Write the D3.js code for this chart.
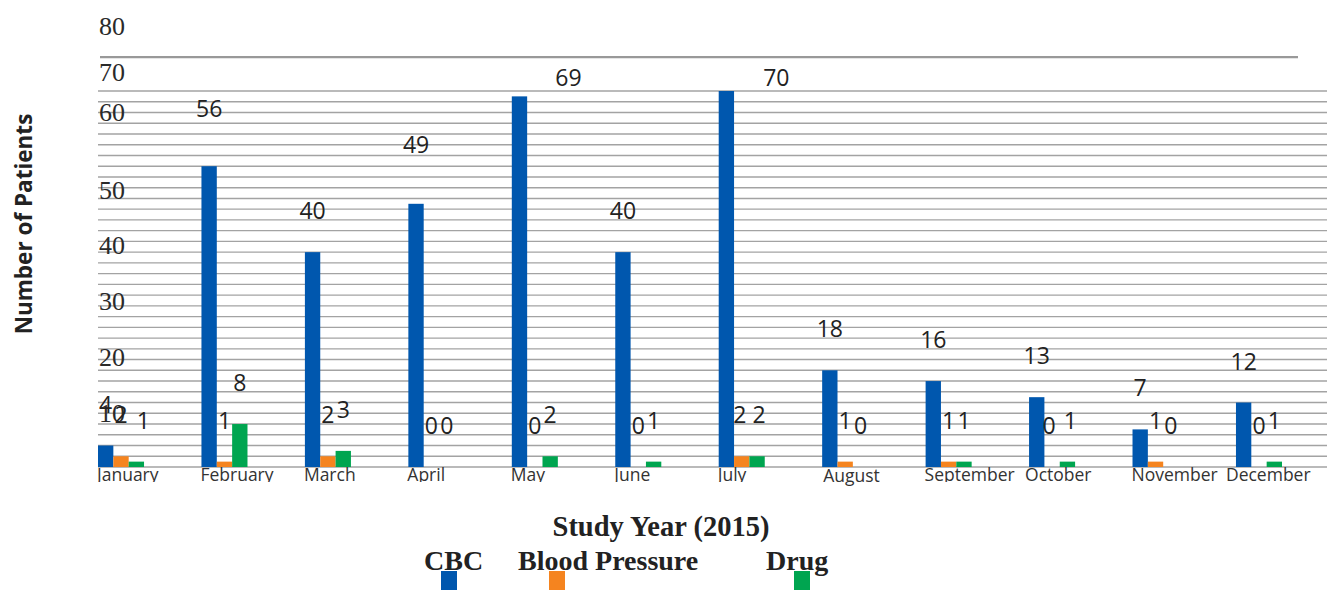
<!DOCTYPE html>
<html>
<head>
<meta charset="utf-8">
<script src="https://cdn.jsdelivr.net/npm/d3@7"></script>
<style>
  html, body { margin: 0; padding: 0; background: #fff; }
  svg { display: block; }
</style>
</head>
<body>
<svg id="chart" width="1327" height="590"></svg>
<script>
// Monthly patient counts, 2015
const months = ["January", "February", "March", "April", "May", "June",
  "July", "August", "September", "October", "November", "December"];
const seriesNames = ["CBC", "Blood Pressure", "Drug"];
const cbc = [4, 56, 40, 49, 69, 40, 70, 18, 16, 13, 7, 12];
const bloodPressure = [2, 1, 2, 0, 0, 0, 2, 1, 1, 0, 1, 0];
const drug = [1, 8, 3, 0, 2, 1, 2, 0, 1, 1, 0, 1];
const yTickLabels = [10, 20, 30, 40, 50, 60, 70, 80];

const seriesValues = [cbc, bloodPressure, drug];
const colors = ["#0057ae", "#f5841f", "#00a550"];

const svg = d3.select("#chart");

const x = d3.scaleBand().domain(months).range([98, 1282]).paddingInner(0.555).paddingOuter(0);
const xs = d3.scaleBand().domain(seriesNames).range([0, x.bandwidth()]).padding(0);
const y = d3.scaleLinear().domain([0, 70]).range([467, 91]);

// tick labels sit on their own, slightly stretched ladder
const yLabel = d3.scaleLinear().domain([10, 50, 60, 70, 80]).range([413, 190, 112, 72, 26]);

// horizontal grid every 2 patients
const grid = svg.append("g");
grid.selectAll("line").data(d3.range(0, 71, 2)).join("line")
  .attr("x1", 98).attr("x2", 1327)
  .attr("y1", d => y(d)).attr("y2", d => y(d))
  .attr("stroke", "#a3a3a3").attr("stroke-width", 1.4);
// plot frame top
svg.append("line")
  .attr("x1", 100).attr("x2", 1298)
  .attr("y1", y(76.3)).attr("y2", y(76.3))
  .attr("stroke", "#999").attr("stroke-width", 2.2);

// y tick labels
svg.append("g").selectAll("text").data(yTickLabels).join("text")
  .attr("x", 99).attr("y", d => yLabel(d))
  .attr("dominant-baseline", "central")
  .attr("font-family", "'Liberation Serif', serif")
  .attr("font-size", 26).attr("fill", "#2a2a2a")
  .text(d => d);

// bars
const rows = months.map((m, i) => ({ month: m, i }));
const groups = svg.append("g").selectAll("g").data(rows).join("g")
  .attr("transform", d => `translate(${x(d.month)},0)`);
groups.selectAll("rect")
  .data(d => seriesNames.map((s, k) => ({ s, k, v: seriesValues[k][d.i], month: d.month })))
  .join("rect")
  .attr("x", d => xs(d.s))
  .attr("width", xs.bandwidth())
  .attr("y", d => y(d.v))
  .attr("height", d => y(0) - y(d.v))
  .attr("fill", d => colors[d.k]);

// value labels: 42px above each bar, a few nudged clear of the frame
const nudge = {
  "CBC|February": [0, -16],
  "CBC|April": [0, -18],
  "CBC|May": [49, 23],
  "CBC|July": [50, 28],
  "Drug|January": [7, 0],
  "Blood Pressure|July": [-2, 0],
  "Drug|July": [2, 0],
  "Blood Pressure|October": [-3, 0],
  "Drug|October": [3, 0]
};
groups.selectAll("text.val")
  .data(d => seriesNames.map((s, k) => ({ s, k, v: seriesValues[k][d.i], month: d.month })))
  .join("text").attr("class", "val")
  .attr("x", d => xs(d.s) + xs.bandwidth() / 2 + ((nudge[d.s + "|" + d.month] || [0, 0])[0]))
  .attr("y", d => y(d.v) - 42 + ((nudge[d.s + "|" + d.month] || [0, 0])[1]))
  .attr("text-anchor", "middle")
  .attr("dominant-baseline", "central")
  .attr("font-family", "'Open Sans', sans-serif")
  .attr("font-size", 23).attr("fill", "#222")
  .text(d => d.v);

// month labels, cut at the bottom edge of the axis strip
const monthShift = { October: -3, December: -9, August: 2 };
svg.append("clipPath").attr("id", "monthClip")
  .append("rect").attr("x", 0).attr("y", 460).attr("width", 1327).attr("height", 22);
svg.append("g").attr("clip-path", "url(#monthClip)")
  .selectAll("text").data(months.filter(m => m !== "August")).join("text")
  .attr("x", d => x(d) - 1 + (monthShift[d] || 0))
  .attr("y", 481)
  .attr("font-family", "'Open Sans', sans-serif")
  .attr("font-size", 17.5).attr("fill", "#333")
  .text(d => d);
svg.append("text")
  .attr("x", x("August") - 1 + monthShift.August).attr("y", 482)
  .attr("font-family", "'Open Sans', sans-serif")
  .attr("font-size", 17.5).attr("fill", "#333")
  .text("August");

// axis titles
svg.append("text")
  .attr("transform", "translate(32,224) rotate(-90)")
  .attr("text-anchor", "middle")
  .attr("font-family", "'Open Sans', sans-serif")
  .attr("font-weight", "bold").attr("font-size", 22.5).attr("fill", "#222")
  .text("Number of Patients");
svg.append("text")
  .attr("x", 661).attr("y", 536)
  .attr("text-anchor", "middle")
  .attr("font-family", "'Liberation Serif', serif")
  .attr("font-weight", "bold").attr("font-size", 28.5).attr("fill", "#222")
  .text("Study Year (2015)");

// legend
const legendItems = [
  { name: seriesNames[0], tx: 424, sx: 441 },
  { name: seriesNames[1], tx: 518, sx: 549 },
  { name: seriesNames[2], tx: 766, sx: 794 }
];
const lg = svg.append("g").selectAll("g").data(legendItems).join("g");
lg.append("text")
  .attr("x", d => d.tx).attr("y", 570)
  .attr("font-family", "'Liberation Serif', serif")
  .attr("font-weight", "bold").attr("font-size", 28).attr("fill", "#222")
  .text(d => d.name);
lg.append("rect")
  .attr("x", d => d.sx).attr("y", 571)
  .attr("width", 16).attr("height", 19)
  .attr("fill", (d, i) => colors[i]);
</script>
</body>
</html>
